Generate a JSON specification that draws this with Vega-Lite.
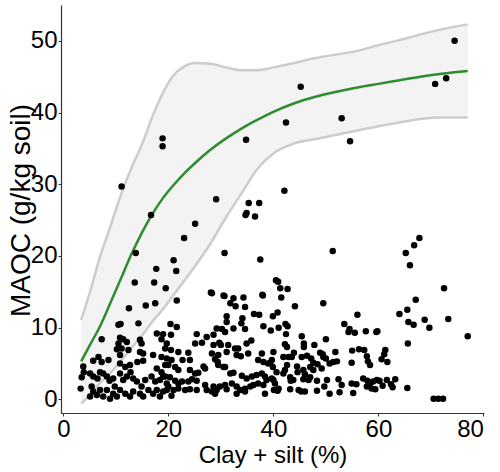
{
  "$schema": "https://vega.github.io/schema/vega-lite/v6.json",
  "width": 423,
  "height": 408,
  "autosize": "none",
  "padding": {"left": 61, "top": 5, "right": 16, "bottom": 59},
  "background": "white",
  "config": {
    "view": {"stroke": null},
    "font": "Liberation Sans",
    "axis": {
      "grid": false,
      "domainColor": "#333333",
      "domainWidth": 1.2,
      "tickColor": "#333333",
      "tickSize": 3,
      "labelFont": "Liberation Sans",
      "labelFontSize": 24,
      "labelColor": "#000000",
      "titleFont": "Liberation Sans",
      "titleFontSize": 24,
      "titleFontWeight": "normal",
      "titleColor": "#000000"
    }
  },
  "datasets": {
    "fit": [
      {"x": 3.4, "y": 5.3, "lo": -0.6, "hi": 11.1},
      {"x": 5, "y": 7.5, "lo": 0.6, "hi": 14.8},
      {"x": 7, "y": 10.2, "lo": 2.3, "hi": 19.9},
      {"x": 9, "y": 13.5, "lo": 3.7, "hi": 24.2},
      {"x": 11, "y": 16.9, "lo": 5.4, "hi": 28.6},
      {"x": 13, "y": 20.3, "lo": 7.2, "hi": 32.3},
      {"x": 15, "y": 23.3, "lo": 8.9, "hi": 35.6},
      {"x": 17, "y": 25.9, "lo": 10.9, "hi": 39.5},
      {"x": 19, "y": 28.1, "lo": 12.6, "hi": 42.8},
      {"x": 21, "y": 29.9, "lo": 14.6, "hi": 45.2},
      {"x": 23, "y": 31.5, "lo": 16.5, "hi": 46.4},
      {"x": 25, "y": 32.9, "lo": 18.5, "hi": 46.9},
      {"x": 28, "y": 34.8, "lo": 21.7, "hi": 46.8},
      {"x": 31, "y": 36.4, "lo": 25.4, "hi": 46.3},
      {"x": 34, "y": 37.8, "lo": 28.8, "hi": 45.9},
      {"x": 37, "y": 39.0, "lo": 32.2, "hi": 45.9},
      {"x": 40, "y": 40.1, "lo": 34.3, "hi": 46.3},
      {"x": 44, "y": 41.3, "lo": 35.7, "hi": 46.9},
      {"x": 48, "y": 42.2, "lo": 36.3, "hi": 47.6},
      {"x": 52, "y": 42.9, "lo": 36.9, "hi": 48.1},
      {"x": 56, "y": 43.5, "lo": 37.5, "hi": 48.6},
      {"x": 60, "y": 44.0, "lo": 38.1, "hi": 49.4},
      {"x": 64, "y": 44.5, "lo": 38.6, "hi": 50.1},
      {"x": 68, "y": 45.0, "lo": 39.1, "hi": 50.9},
      {"x": 72, "y": 45.4, "lo": 39.3, "hi": 51.6},
      {"x": 77, "y": 45.8, "lo": 39.3, "hi": 52.3}
    ],
    "pts": [
      {"x": 11.1, "y": 29.7}, {"x": 18.9, "y": 36.4}, {"x": 18.9, "y": 35.3}, {"x": 34.8, "y": 36.2}, {"x": 29.1, "y": 27.9},
      {"x": 74.5, "y": 50.0}, {"x": 72.9, "y": 44.8}, {"x": 70.8, "y": 44.0}, {"x": 45.2, "y": 43.6}, {"x": 42.4, "y": 38.6},
      {"x": 53.0, "y": 39.2}, {"x": 54.6, "y": 36.0}, {"x": 42.1, "y": 29.1}, {"x": 16.7, "y": 25.7}, {"x": 13.8, "y": 20.4},
      {"x": 25.1, "y": 24.5}, {"x": 23.0, "y": 22.5}, {"x": 21.0, "y": 19.4}, {"x": 17.7, "y": 18.2}, {"x": 21.5, "y": 17.9},
      {"x": 13.6, "y": 16.3}, {"x": 17.3, "y": 16.3}, {"x": 19.5, "y": 15.5}, {"x": 30.7, "y": 20.4}, {"x": 35.3, "y": 27.4},
      {"x": 37.3, "y": 27.4}, {"x": 34.7, "y": 25.7}, {"x": 34.9, "y": 26.0}, {"x": 36.5, "y": 25.5}, {"x": 37.5, "y": 19.5},
      {"x": 40.5, "y": 16.6}, {"x": 40.9, "y": 16.4}, {"x": 28.1, "y": 14.9}, {"x": 30.5, "y": 14.5}, {"x": 37.9, "y": 14.6},
      {"x": 51.3, "y": 20.7}, {"x": 67.8, "y": 22.5}, {"x": 66.8, "y": 21.5}, {"x": 65.2, "y": 20.4}, {"x": 66.0, "y": 18.7},
      {"x": 72.5, "y": 15.5}, {"x": 41.3, "y": 15.5}, {"x": 42.7, "y": 15.4}, {"x": 77.0, "y": 8.8}, {"x": 73.3, "y": 11.2},
      {"x": 67.1, "y": 13.9}, {"x": 65.5, "y": 12.5}, {"x": 64.0, "y": 11.9}, {"x": 65.7, "y": 10.8}, {"x": 66.7, "y": 10.4},
      {"x": 68.8, "y": 11.1}, {"x": 69.7, "y": 10.0}, {"x": 65.6, "y": 7.8}, {"x": 65.5, "y": 1.6}, {"x": 70.5, "y": 0.1},
      {"x": 71.4, "y": 0.1}, {"x": 72.3, "y": 0.1}, {"x": 59.8, "y": 9.5}, {"x": 61.3, "y": 6.9}, {"x": 61.1, "y": 6.3},
      {"x": 60.6, "y": 5.6}, {"x": 61.7, "y": 5.2}, {"x": 60.2, "y": 2.6}, {"x": 61.6, "y": 2.7}, {"x": 63.2, "y": 2.8},
      {"x": 60.8, "y": 1.9}, {"x": 62.4, "y": 2.1}, {"x": 62.7, "y": 1.7}, {"x": 59.4, "y": 1.4},
      {"x": 41.5, "y": 14.2}, {"x": 44.1, "y": 13.0}, {"x": 49.5, "y": 13.4}, {"x": 56.0, "y": 11.8}, {"x": 39.9, "y": 11.6},
      {"x": 40.8, "y": 12.1}, {"x": 42.3, "y": 10.5}, {"x": 42.7, "y": 10.2}, {"x": 41.0, "y": 10.0}, {"x": 39.5, "y": 9.6},
      {"x": 42.4, "y": 9.1}, {"x": 45.4, "y": 8.8}, {"x": 53.5, "y": 10.5}, {"x": 54.5, "y": 9.8}, {"x": 54.3, "y": 9.4},
      {"x": 55.5, "y": 9.3}, {"x": 57.6, "y": 9.5}, {"x": 59.6, "y": 9.4}, {"x": 50.0, "y": 8.4}, {"x": 45.8, "y": 7.8},
      {"x": 47.8, "y": 7.6}, {"x": 42.2, "y": 7.7}, {"x": 42.6, "y": 7.3}, {"x": 45.8, "y": 7.3}, {"x": 40.0, "y": 6.6},
      {"x": 43.9, "y": 6.5}, {"x": 48.9, "y": 6.5}, {"x": 49.4, "y": 6.3}, {"x": 51.8, "y": 6.6}, {"x": 55.0, "y": 6.8},
      {"x": 56.3, "y": 7.0}, {"x": 57.3, "y": 6.9}, {"x": 41.9, "y": 5.9}, {"x": 42.9, "y": 5.9}, {"x": 43.5, "y": 5.9},
      {"x": 45.4, "y": 5.9}, {"x": 46.4, "y": 6.1}, {"x": 47.2, "y": 5.7}, {"x": 47.6, "y": 5.1}, {"x": 48.4, "y": 4.9},
      {"x": 49.5, "y": 5.9}, {"x": 50.0, "y": 5.7}, {"x": 50.7, "y": 5.0}, {"x": 51.4, "y": 5.2}, {"x": 52.1, "y": 5.3},
      {"x": 54.9, "y": 5.1}, {"x": 57.8, "y": 6.0}, {"x": 58.0, "y": 5.3}, {"x": 58.4, "y": 4.8}, {"x": 39.4, "y": 5.1},
      {"x": 39.9, "y": 4.5}, {"x": 42.6, "y": 4.8}, {"x": 42.2, "y": 4.1}, {"x": 41.9, "y": 3.6}, {"x": 44.5, "y": 4.6},
      {"x": 44.6, "y": 3.8}, {"x": 45.7, "y": 4.1}, {"x": 46.0, "y": 3.5}, {"x": 47.0, "y": 4.5}, {"x": 47.6, "y": 4.1},
      {"x": 49.2, "y": 4.3}, {"x": 40.6, "y": 3.8}, {"x": 43.2, "y": 3.1}, {"x": 43.8, "y": 2.7}, {"x": 43.3, "y": 2.6},
      {"x": 45.7, "y": 2.8}, {"x": 46.7, "y": 2.7}, {"x": 47.0, "y": 3.1}, {"x": 48.3, "y": 2.6}, {"x": 50.2, "y": 2.7},
      {"x": 52.4, "y": 2.8}, {"x": 53.0, "y": 2.0}, {"x": 54.9, "y": 2.2}, {"x": 55.8, "y": 2.1}, {"x": 57.1, "y": 2.9},
      {"x": 57.9, "y": 2.6}, {"x": 58.4, "y": 2.2}, {"x": 59.0, "y": 2.5}, {"x": 59.7, "y": 2.7}, {"x": 57.8, "y": 1.8},
      {"x": 58.7, "y": 1.5}, {"x": 40.0, "y": 2.7}, {"x": 40.3, "y": 2.2}, {"x": 41.0, "y": 1.5}, {"x": 40.1, "y": 1.3},
      {"x": 40.8, "y": 1.2}, {"x": 43.2, "y": 1.4}, {"x": 44.8, "y": 1.3}, {"x": 45.3, "y": 1.1}, {"x": 46.0, "y": 1.1},
      {"x": 48.3, "y": 1.2}, {"x": 49.7, "y": 1.8}, {"x": 50.7, "y": 0.8}, {"x": 52.6, "y": 1.0}, {"x": 55.2, "y": 0.9},
      {"x": 21.6, "y": 13.8}, {"x": 28.3, "y": 14.8}, {"x": 30.7, "y": 14.4}, {"x": 32.4, "y": 14.1}, {"x": 34.3, "y": 14.2},
      {"x": 38.0, "y": 14.5}, {"x": 31.8, "y": 13.4}, {"x": 32.8, "y": 13.0}, {"x": 34.6, "y": 12.9}, {"x": 31.1, "y": 11.6},
      {"x": 31.1, "y": 10.8}, {"x": 34.1, "y": 11.3}, {"x": 33.9, "y": 10.6}, {"x": 36.3, "y": 11.9}, {"x": 37.3, "y": 11.8},
      {"x": 20.4, "y": 10.5}, {"x": 21.6, "y": 10.1}, {"x": 20.5, "y": 9.0}, {"x": 25.4, "y": 9.1}, {"x": 27.3, "y": 8.7},
      {"x": 28.6, "y": 9.0}, {"x": 29.2, "y": 9.9}, {"x": 30.2, "y": 9.8}, {"x": 30.8, "y": 9.4}, {"x": 32.4, "y": 9.9},
      {"x": 34.6, "y": 9.8}, {"x": 38.1, "y": 10.2}, {"x": 25.1, "y": 7.8}, {"x": 26.4, "y": 7.9}, {"x": 28.6, "y": 7.6},
      {"x": 29.7, "y": 7.9}, {"x": 30.0, "y": 7.6}, {"x": 31.4, "y": 7.6}, {"x": 32.7, "y": 7.1}, {"x": 33.3, "y": 7.1},
      {"x": 34.9, "y": 7.8}, {"x": 35.8, "y": 8.2}, {"x": 20.5, "y": 6.9}, {"x": 21.9, "y": 6.6}, {"x": 23.8, "y": 6.5},
      {"x": 28.3, "y": 6.4}, {"x": 29.5, "y": 6.2}, {"x": 31.1, "y": 6.6}, {"x": 33.0, "y": 6.2}, {"x": 33.8, "y": 6.0},
      {"x": 35.2, "y": 6.4}, {"x": 37.8, "y": 6.4}, {"x": 19.7, "y": 5.7}, {"x": 20.6, "y": 5.5}, {"x": 22.7, "y": 5.5},
      {"x": 24.1, "y": 5.5}, {"x": 28.9, "y": 5.6}, {"x": 29.4, "y": 5.2}, {"x": 29.5, "y": 4.8}, {"x": 30.5, "y": 4.5},
      {"x": 37.1, "y": 5.5}, {"x": 38.1, "y": 5.2}, {"x": 39.0, "y": 5.0}, {"x": 39.7, "y": 5.5}, {"x": 20.0, "y": 4.8},
      {"x": 21.3, "y": 4.5}, {"x": 21.9, "y": 4.1}, {"x": 24.1, "y": 4.1}, {"x": 25.1, "y": 3.6}, {"x": 25.7, "y": 3.7},
      {"x": 26.7, "y": 4.6}, {"x": 27.0, "y": 4.3}, {"x": 30.8, "y": 4.5}, {"x": 31.8, "y": 3.6}, {"x": 32.4, "y": 3.7},
      {"x": 34.0, "y": 3.3}, {"x": 34.9, "y": 2.9}, {"x": 35.9, "y": 3.2}, {"x": 36.8, "y": 3.4}, {"x": 37.8, "y": 3.6},
      {"x": 38.4, "y": 3.2}, {"x": 38.7, "y": 2.7}, {"x": 39.7, "y": 2.9}, {"x": 19.4, "y": 3.2}, {"x": 20.3, "y": 3.1},
      {"x": 21.3, "y": 2.6}, {"x": 21.9, "y": 2.2}, {"x": 22.6, "y": 2.5}, {"x": 23.8, "y": 2.5}, {"x": 24.5, "y": 2.8},
      {"x": 25.4, "y": 2.6}, {"x": 27.0, "y": 2.0}, {"x": 27.3, "y": 1.3}, {"x": 28.6, "y": 1.8}, {"x": 29.2, "y": 1.3},
      {"x": 29.8, "y": 1.8}, {"x": 30.8, "y": 2.0}, {"x": 31.1, "y": 1.4}, {"x": 32.1, "y": 2.2}, {"x": 33.0, "y": 1.8},
      {"x": 33.7, "y": 1.3}, {"x": 34.6, "y": 1.5}, {"x": 35.6, "y": 1.8}, {"x": 36.2, "y": 2.0}, {"x": 37.1, "y": 2.2},
      {"x": 38.1, "y": 2.0}, {"x": 38.4, "y": 0.8}, {"x": 20.0, "y": 1.8}, {"x": 21.0, "y": 1.3}, {"x": 20.6, "y": 0.5},
      {"x": 21.9, "y": 1.5}, {"x": 23.2, "y": 1.3}, {"x": 24.1, "y": 1.4}, {"x": 25.4, "y": 1.3}, {"x": 28.3, "y": 1.1},
      {"x": 28.9, "y": 0.8}, {"x": 33.0, "y": 0.8}, {"x": 34.6, "y": 1.1},
      {"x": 12.5, "y": 12.7}, {"x": 15.7, "y": 13.1}, {"x": 17.5, "y": 13.4}, {"x": 10.5, "y": 10.4}, {"x": 10.9, "y": 10.5},
      {"x": 14.3, "y": 10.6}, {"x": 7.3, "y": 8.4}, {"x": 10.8, "y": 8.6}, {"x": 11.4, "y": 8.4}, {"x": 10.5, "y": 7.8},
      {"x": 12.1, "y": 8.0}, {"x": 10.2, "y": 7.0}, {"x": 11.1, "y": 7.1}, {"x": 12.4, "y": 6.9}, {"x": 10.8, "y": 6.2},
      {"x": 17.8, "y": 9.2}, {"x": 19.0, "y": 9.1}, {"x": 18.7, "y": 8.4}, {"x": 19.7, "y": 7.8}, {"x": 19.4, "y": 7.1},
      {"x": 14.6, "y": 8.3}, {"x": 14.9, "y": 7.8}, {"x": 14.6, "y": 6.6}, {"x": 15.2, "y": 6.4}, {"x": 14.1, "y": 5.2},
      {"x": 15.2, "y": 5.4}, {"x": 18.7, "y": 5.9}, {"x": 5.7, "y": 5.4}, {"x": 6.7, "y": 5.9}, {"x": 7.3, "y": 5.2},
      {"x": 8.6, "y": 5.5}, {"x": 3.8, "y": 4.6}, {"x": 3.9, "y": 3.8}, {"x": 3.5, "y": 3.1}, {"x": 3.3, "y": 1.5},
      {"x": 5.1, "y": 3.6}, {"x": 5.7, "y": 3.2}, {"x": 6.5, "y": 2.9}, {"x": 7.0, "y": 3.8}, {"x": 7.6, "y": 3.6},
      {"x": 8.3, "y": 3.2}, {"x": 8.8, "y": 2.6}, {"x": 9.5, "y": 2.9}, {"x": 9.8, "y": 1.8}, {"x": 10.8, "y": 3.6},
      {"x": 11.4, "y": 2.7}, {"x": 12.1, "y": 3.2}, {"x": 12.8, "y": 3.8}, {"x": 13.3, "y": 2.9}, {"x": 14.0, "y": 2.5},
      {"x": 14.9, "y": 1.8}, {"x": 15.6, "y": 2.7}, {"x": 16.8, "y": 3.2}, {"x": 17.5, "y": 2.5}, {"x": 18.4, "y": 2.7},
      {"x": 19.0, "y": 3.2}, {"x": 19.7, "y": 2.2}, {"x": 5.4, "y": 1.8}, {"x": 5.7, "y": 1.1}, {"x": 5.1, "y": 0.4},
      {"x": 6.4, "y": 0.6}, {"x": 7.0, "y": 1.3}, {"x": 7.6, "y": 0.4}, {"x": 8.3, "y": 1.3}, {"x": 8.9, "y": 0.1},
      {"x": 9.5, "y": 0.8}, {"x": 10.2, "y": 0.4}, {"x": 10.8, "y": 1.3}, {"x": 11.8, "y": 0.8}, {"x": 12.7, "y": 0.4},
      {"x": 13.3, "y": 1.1}, {"x": 14.6, "y": 0.8}, {"x": 15.2, "y": 0.4}, {"x": 16.2, "y": 1.3}, {"x": 17.1, "y": 0.8},
      {"x": 17.8, "y": 1.3}, {"x": 18.4, "y": 0.4}, {"x": 19.0, "y": 1.1}, {"x": 19.7, "y": 1.3}, {"x": 17.8, "y": 4.3},
      {"x": 18.7, "y": 3.8}, {"x": 19.4, "y": 4.8}, {"x": 10.8, "y": 5.0}, {"x": 11.8, "y": 4.5}, {"x": 12.7, "y": 4.8},
      {"x": 17.1, "y": 6.2}
    ]
  },
  "layer": [
    {
      "data": {"name": "fit"},
      "mark": {"type": "area", "color": "#f3f3f3", "opacity": 1, "interpolate": "monotone"},
      "encoding": {
        "x": {"field": "x", "type": "quantitative", "scale": {"domain": [-0.44, 80.1], "nice": false, "zero": false},
          "axis": {"values": [0, 20, 40, 60, 80], "title": "Clay + silt (%)", "labelPadding": 1, "titleBaseline": "alphabetic", "titleY": 49}},
        "y": {"field": "lo", "type": "quantitative", "scale": {"domain": [-1.9, 55.0], "nice": false, "zero": false},
          "axis": {"values": [0, 10, 20, 30, 40, 50], "title": "MAOC (g/kg soil)", "labelPadding": 1, "titleFontSize": 28, "titleAngle": -90, "titleBaseline": "alphabetic", "titleAlign": "center", "titleX": -32, "titleY": 205}},
        "y2": {"field": "hi"}
      }
    },
    {
      "data": {"name": "fit"},
      "mark": {"type": "line", "color": "#cccccc", "strokeWidth": 2.5, "interpolate": "monotone"},
      "encoding": {"x": {"field": "x", "type": "quantitative"}, "y": {"field": "hi", "type": "quantitative"}}
    },
    {
      "data": {"name": "fit"},
      "mark": {"type": "line", "color": "#cccccc", "strokeWidth": 2.5, "interpolate": "monotone"},
      "encoding": {"x": {"field": "x", "type": "quantitative"}, "y": {"field": "lo", "type": "quantitative"}}
    },
    {
      "data": {"name": "fit"},
      "mark": {"type": "line", "color": "#2e8b2e", "strokeWidth": 2.5, "interpolate": "monotone"},
      "encoding": {"x": {"field": "x", "type": "quantitative"}, "y": {"field": "y", "type": "quantitative"}}
    },
    {
      "data": {"name": "pts"},
      "mark": {"type": "circle", "color": "#000000", "opacity": 1, "size": 42},
      "encoding": {"x": {"field": "x", "type": "quantitative"}, "y": {"field": "y", "type": "quantitative"}}
    }
  ]
}
